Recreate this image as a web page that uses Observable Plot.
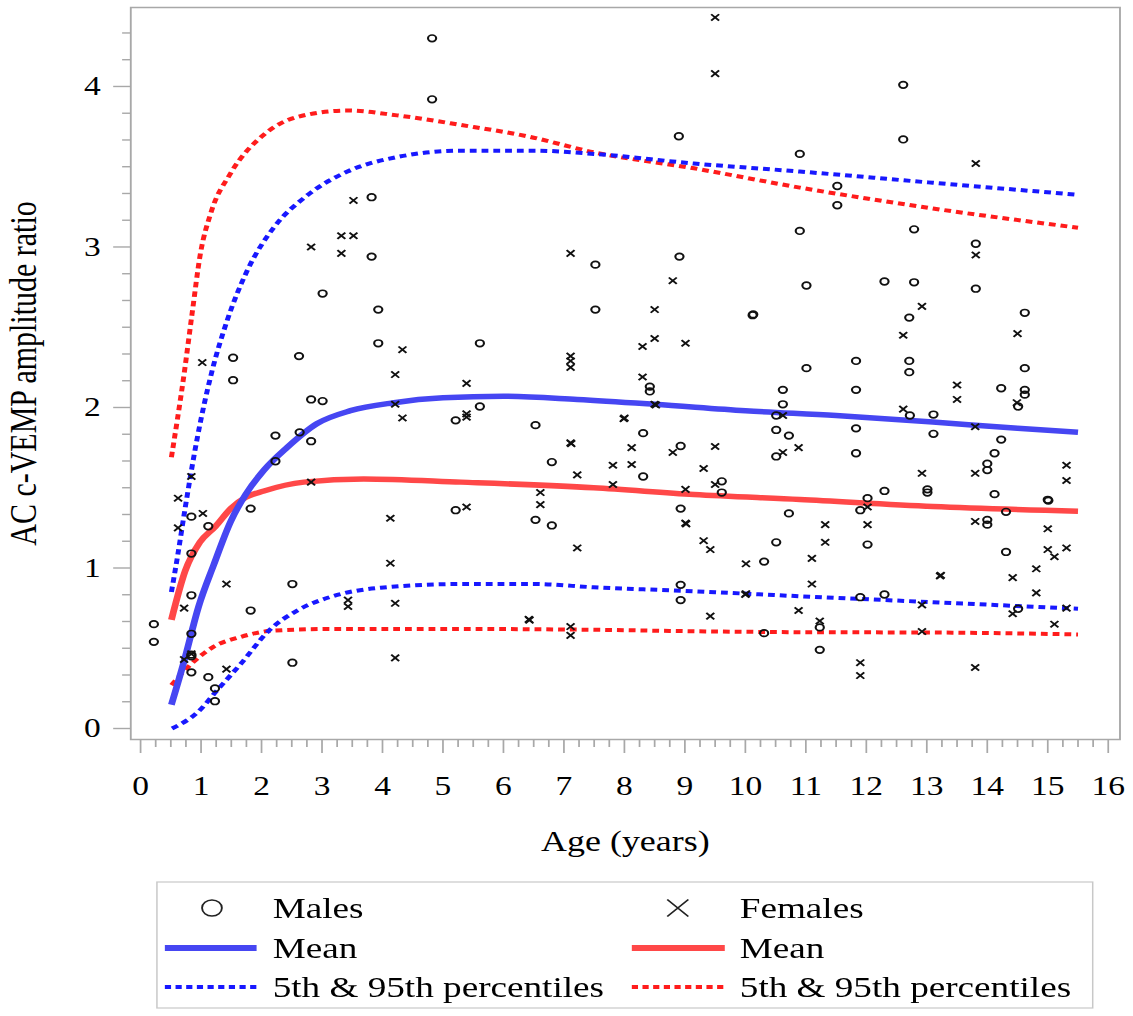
<!DOCTYPE html>
<html><head><meta charset="utf-8">
<script src="https://cdn.jsdelivr.net/npm/d3@7"></script>
<script src="https://cdn.jsdelivr.net/npm/@observablehq/plot@0.6"></script>
<style>
html,body{margin:0;padding:0;background:#fff;}
#wrap{width:914px;transform:scaleX(1.2396);transform-origin:0 0;font-family:"Liberation Serif","Times New Roman",serif;}
#wrap svg{display:block;}
</style></head><body><div id="wrap"></div>
<script>
// Observations: [age (years), AC c-VEMP amplitude ratio]
const males = [
 [0.22,0.65],[0.22,0.54],[0.84,1.32],[0.84,1.09],[0.84,0.83],[0.84,0.59],[0.84,0.46],[0.84,0.45],[0.84,0.35],
 [1.12,1.26],[1.12,0.32],[1.23,0.25],[1.23,0.17],[1.53,2.17],[1.53,2.31],[1.82,1.37],[1.82,0.735],
 [2.23,1.825],[2.23,1.665],[2.51,0.90],[2.51,0.41],[2.63,1.845],[2.82,2.05],[3.01,2.04],[2.82,1.79],
 [5.21,1.92],[5.21,1.36],[4.82,4.30],[4.82,3.92],[3.82,3.31],[3.82,2.94],[3.01,2.71],[3.93,2.61],[3.93,2.40],[2.62,2.32],
 [8.90,3.69],[8.91,2.94],[7.52,2.89],[7.52,2.61],[10.13,2.58],[10.12,2.575],[5.61,2.40],[10.90,3.58],[10.90,3.10],
 [5.61,2.006],[6.53,1.89],[6.80,1.66],[6.53,1.30],[6.80,1.265],[8.42,2.13],[8.42,2.10],[8.31,1.84],[8.31,1.57],
 [8.93,1.76],[8.93,1.37],[8.93,0.895],[8.93,0.80],[9.61,1.54],[9.61,1.47],[10.31,1.04],[10.31,0.594],[10.51,1.16],
 [10.62,2.11],[10.62,2.02],[10.51,1.95],[10.51,1.86],[10.72,1.825],[10.51,1.695],[10.72,1.34],
 [12.61,4.01],[12.61,3.67],[11.52,3.38],[11.52,3.26],[12.79,3.11],[13.81,3.02],[13.81,2.74],[11.01,2.76],[12.30,2.785],
 [12.79,2.78],[12.71,2.56],[14.62,2.59],[11.01,2.245],[11.83,2.29],[12.71,2.29],[12.71,2.22],[14.62,2.245],
 [11.83,2.11],[11.83,1.87],[11.83,1.715],[12.72,1.95],[13.11,1.956],[13.11,1.836],[14.23,2.12],[14.62,2.11],[14.62,2.08],
 [14.51,2.006],[14.23,1.80],[14.12,1.715],[14.00,1.65],[14.00,1.61],[12.30,1.48],[13.01,1.49],[13.01,1.47],[14.12,1.46],
 [12.02,1.435],[11.90,1.36],[15.0,1.425],[15.01,1.42],[14.31,1.35],[14.0,1.30],[14.0,1.27],[12.02,1.146],[14.31,1.10],
 [11.90,0.818],[12.30,0.835],[14.51,0.746],[11.23,0.63],[11.23,0.49]
];
const females = [
 [0.62,1.435],[0.84,1.57],[0.62,1.25],[1.03,1.34],[0.72,0.75],[0.72,0.43],[0.84,0.465],[1.42,0.90],[1.42,0.37],
 [2.82,1.535],[3.43,0.80],[3.43,0.76],[4.13,1.31],[4.13,1.03],[4.21,0.78],[4.21,0.44],[4.21,2.02],[4.33,1.935],
 [4.21,2.205],[5.39,2.15],[5.39,1.96],[5.39,1.94],[5.39,1.38],[1.02,2.28],
 [3.52,3.29],[3.32,3.07],[3.52,3.07],[2.82,3.00],[3.32,2.96],[4.33,2.36],
 [9.50,4.43],[9.50,4.08],[7.11,2.96],[8.80,2.79],[8.50,2.61],[8.50,2.43],[8.30,2.38],[9.01,2.40],
 [7.11,2.32],[7.11,2.29],[7.11,2.25],[8.30,2.19],
 [8.50,2.02],[8.52,2.015],[7.99,1.93],[8.00,1.935],[7.11,1.78],[7.12,1.775],[7.22,1.58],[6.61,1.47],[6.61,1.395],
 [7.22,1.125],[7.81,1.64],[7.81,1.52],[8.12,1.75],[8.12,1.645],[8.80,1.72],[9.01,1.49],[9.01,1.28],[9.02,1.275],
 [9.31,1.62],[9.50,1.757],[9.50,1.52],[9.31,1.17],[9.42,1.115],[9.42,0.70],[10.01,1.026],[10.01,0.84],[10.00,0.835],
 [10.62,1.95],[10.62,1.72],[10.88,1.75],[10.88,0.735],[6.42,0.68],[6.43,0.675],[7.11,0.635],[7.11,0.58],
 [11.32,1.27],[11.32,1.16],[11.10,1.06],[11.10,0.90],[11.23,0.67],[12.02,1.38],[12.02,1.27],[11.90,0.41],[11.90,0.33],
 [12.61,1.99],[12.92,1.59],[12.92,0.77],[12.92,0.604],[13.22,0.95],[13.23,0.955],[13.50,2.14],[13.50,2.05],
 [13.80,1.88],[13.80,1.59],[13.80,1.29],[13.80,0.38],[14.49,2.03],[14.42,0.94],[14.42,0.715],[14.81,0.995],[14.81,0.845],
 [15.0,1.244],[15.0,1.115],[15.11,1.07],[15.11,0.65],[15.31,1.64],[15.31,1.545],[15.31,1.125],[15.31,0.75],
 [13.81,3.52],[13.81,2.95],[12.92,2.63],[12.61,2.45],[14.50,2.46]
];
// Fitted curves: [age, ratio]
const maleMean = [[0.51,0.148],[0.72,0.42],[0.96,0.76],[1.21,1.02],[1.49,1.29],[1.74,1.46],[2.04,1.61],[2.42,1.75],[2.92,1.90],[3.47,1.98],[4.19,2.03],[5.0,2.06],[6.0,2.07],[7.22,2.05],[8.5,2.02],[10.0,1.98],[11.5,1.95],[13.1,1.91],[14.5,1.87],[15.5,1.846]];
const maleP95 = [[0.51,0.85],[0.61,1.07],[0.74,1.38],[0.94,1.815],[1.17,2.21],[1.43,2.54],[1.76,2.85],[2.20,3.12],[2.75,3.32],[3.42,3.47],[4.24,3.56],[5.3,3.60],[6.5,3.60],[7.5,3.58],[9.15,3.52],[10.9,3.47],[13.1,3.40],[15.5,3.325]];
const maleP5 = [[0.52,0.0],[0.94,0.10],[1.27,0.24],[1.65,0.40],[2.15,0.62],[2.59,0.735],[3.14,0.82],[3.97,0.877],[5.3,0.90],[6.5,0.90],[7.49,0.88],[9.15,0.855],[10.9,0.824],[13.1,0.787],[15.5,0.746]];
const femaleMean = [[0.51,0.677],[0.74,0.984],[0.98,1.16],[1.24,1.26],[1.49,1.37],[1.74,1.44],[2.04,1.48],[2.70,1.535],[3.69,1.555],[5.3,1.535],[7.49,1.50],[9.15,1.458],[10.9,1.427],[13.1,1.383],[15.5,1.354]];
const femaleP95 = [[0.51,1.69],[0.72,2.21],[0.85,2.58],[0.99,2.96],[1.16,3.21],[1.49,3.46],[2.04,3.70],[2.59,3.81],[3.42,3.85],[4.24,3.82],[5.3,3.76],[6.39,3.69],[7.49,3.59],[9.15,3.49],[10.9,3.37],[13.1,3.24],[15.5,3.12]];
const femaleP5 = [[0.51,0.27],[0.83,0.40],[1.21,0.51],[1.65,0.57],[2.20,0.61],[3.14,0.62],[5.3,0.62],[7.49,0.615],[9.15,0.606],[10.9,0.60],[13.1,0.598],[15.5,0.586]];

const xTicks = d3.range(0, 17);
const xMinorTicks = d3.range(0, 65).filter(i => i % 4 !== 0).map(i => i / 4);
const yTicks = [0, 1, 2, 3, 4];
const yMinorTicks = d3.range(0, 27).filter(i => i % 6 !== 0).map(i => i / 6);

const legendLabels = ["Males", "Females", "Mean", "Mean", "5th & 95th percentiles", "5th & 95th percentiles"];

const C = {blueMean: "#4646f2", blueDot: "#1818ff", redMean: "#ff4848", redDot: "#ff1c1c", grid: "#a8a8a8"};
const X = d => d[0], Y = d => d[1];
const dash = "5.5,4";
const dotted = {strokeWidth: 4, strokeDasharray: dash, strokeLinecap: "butt", curve: "monotone-x"};
const solid = {strokeWidth: 5.5, strokeLinecap: "butt", curve: "monotone-x"};

const chart = Plot.plot({
  width: 914, height: 870,
  marginTop: 7, marginBottom: 131, marginLeft: 105, marginRight: 11,
  x: {domain: [-0.162, 16.194]},
  y: {domain: [-0.0685, 4.492]},
  style: {fontFamily: "'Liberation Serif', 'Times New Roman', serif", background: "white", color: "black"},
  marks: [
    Plot.frame({stroke: C.grid, strokeWidth: 1.5}),
    Plot.axisX({ticks: xMinorTicks, tickSize: 8, tickFormat: () => "", label: null, stroke: C.grid, strokeWidth: 1.4}),
    Plot.axisX({ticks: xTicks, tickSize: 14, tickPadding: 22.8, fontSize: 27, label: null, stroke: C.grid, strokeWidth: 1.4, fill: "black", tickFormat: d => String(d)}),
    Plot.axisY({ticks: yMinorTicks, tickSize: 6.5, tickFormat: () => "", label: null, stroke: C.grid, strokeWidth: 1.4}),
    Plot.axisY({ticks: yTicks, tickSize: 13.7, tickPadding: 10.5, fontSize: 27, label: null, stroke: C.grid, strokeWidth: 1.4, fill: "black", tickFormat: d => String(d)}),
    Plot.text(["Age (years)"], {text: d => d, frameAnchor: "bottom", dy: 111, lineAnchor: "bottom", fontSize: 29, fill: "black"}),
    Plot.text(["AC c-VEMP amplitude ratio"], {text: d => d, frameAnchor: "left", textAnchor: "middle", dx: -98, rotate: -90, lineAnchor: "top", fontSize: 30, fill: "black"}),
    Plot.line(femaleP5, {x: X, y: Y, stroke: C.redDot, ...dotted}),
    Plot.line(femaleP95, {x: X, y: Y, stroke: C.redDot, ...dotted}),
    Plot.line(femaleMean, {x: X, y: Y, stroke: C.redMean, ...solid}),
    Plot.line(maleP5, {x: X, y: Y, stroke: C.blueDot, ...dotted}),
    Plot.line(maleP95, {x: X, y: Y, stroke: C.blueDot, ...dotted}),
    Plot.line(maleMean, {x: X, y: Y, stroke: C.blueMean, ...solid}),
    Plot.dot(males, {x: X, y: Y, symbol: "circle", r: 3.3, stroke: "#111", fill: "none", strokeWidth: 1.7}),
    Plot.dot(females, {x: X, y: Y, symbol: "times", r: 3, stroke: "#111", strokeWidth: 1.7})
  ]
});
const wrap = document.getElementById("wrap");
wrap.appendChild(chart);

// Legend below the chart
const lg = d3.select(wrap).append("svg").attr("width", 914).attr("height", 146)
  .style("font-family", "'Liberation Serif', 'Times New Roman', serif");
lg.append("rect").attr("x", 126.6).attr("y", 12).attr("width", 754.9).attr("height", 126)
  .attr("fill", "none").attr("stroke", "#c8c8c8").attr("stroke-width", 1.2);
const cols = [{sym: 171, l0: 133, l1: 207, tx: 220, mean: C.blueMean, dot: C.blueDot},
              {sym: 546.8, l0: 509.7, l1: 584.7, tx: 596.8, mean: C.redMean, dot: C.redDot}];
cols.forEach((c, i) => {
  if (i === 0) {
    lg.append("circle").attr("cx", c.sym).attr("cy", 38).attr("r", 8).attr("fill", "none").attr("stroke", "#222").attr("stroke-width", 1.5);
  } else {
    lg.append("path").attr("d", `M${c.sym-8.5},${38-8.5}L${c.sym+8.5},${38+8.5}M${c.sym-8.5},${38+8.5}L${c.sym+8.5},${38-8.5}`)
      .attr("stroke", "#222").attr("stroke-width", 1.5);
  }
  lg.append("line").attr("x1", c.l0).attr("x2", c.l1).attr("y1", 78).attr("y2", 78).attr("stroke", c.mean).attr("stroke-width", 6);
  lg.append("line").attr("x1", c.l0).attr("x2", c.l1).attr("y1", 117).attr("y2", 117).attr("stroke", c.dot).attr("stroke-width", 4).attr("stroke-dasharray", "5,3.6");
  [0, 1, 2].forEach(r => {
    lg.append("text").attr("x", c.tx).attr("y", [48, 88, 127][r]).attr("font-size", 30).attr("fill", "black")
      .text(legendLabels[r * 2 + i]);
  });
});
</script></body></html>
